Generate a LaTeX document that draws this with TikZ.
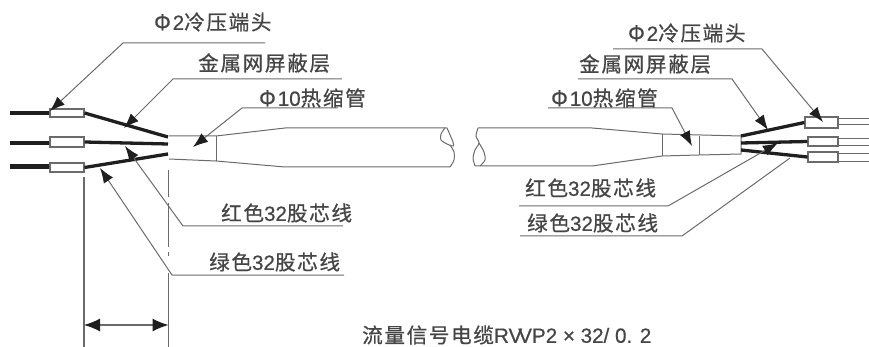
\documentclass[tikz,border=0pt]{standalone}
\usepackage{fontspec}
\usetikzlibrary{arrows.meta}
\setmainfont[FakeBold=0.5]{Liberation Sans}
\newfontfamily\cjk[LetterSpace=8,FakeBold=0.7]{Noto Sans CJK SC}
\newcommand{\zh}[1]{{\cjk #1}}
\newcommand{\phis}{{\cjk Φ}\kern2pt}
\definecolor{ink}{gray}{0.12}
\definecolor{leadc}{gray}{0.42}
\definecolor{txt}{gray}{0.27}
\tikzset{
 x=1pt,y=-1pt,
 lab/.style={inner sep=0pt,text=txt,font=\fontsize{20.6}{21}\selectfont,anchor=west},
 term/.style={draw=leadc,line width=1.1pt,fill=white,inner sep=0pt},
 wire/.style={draw=ink,line width=3.3pt},
 tail/.style={draw=leadc,line width=0.9pt},
 lead/.style={draw=leadc,line width=1pt},
 leadarrow/.style={lead,-{Latex[length=15pt,width=11pt,color=ink]}},
 sheath/.style={draw=leadc,line width=1pt},
 dim/.style={draw=leadc,line width=1.2pt},
 dimarrow/.style={draw=leadc,line width=1.2pt,{Latex[length=16pt,width=13pt,color=ink]}-{Latex[length=16pt,width=13pt,color=ink]}},
}
\begin{document}
\begin{tikzpicture}
\useasboundingbox (0,0) rectangle (869,347);
% free-end coordinates
\foreach \n/\x/\y in {
 wa/10/113,wb/10/143,wc/10/167,
 sla/168/137,slb/168/144,slc/168/154,
 sra/741/136,srb/741/143,src/741/150,
 la1/265/43,la2/123/43,la3/50/111,
 lb1/342/79,lb2/173/79,lb3/124/128,
 lc1/338/108,lc2/242/108,lc3/193/147,
 ld1/343/226,ld2/183/226,ld3/125/146,
 le1/344/275,le2/172/275,le3/100/168,
 ra1/613/49,ra2/762/49,ra3/823/122,
 rb1/578/79,rb2/732/79,rb3/768/130,
 rc1/548/108,rc2/672/108,rc3/692/146,
 rd1/519/206,rd2/668/206,rd3/778/143,
 re1/520/236,re2/682/236,re3/790/158,
 dl1/84/177,dl2/84/347,dr1/168.5/170,dr2/168.5/273,dr3/168.5/347,
 da/84/325,db/168.5/325,
 ta1/869/118,ta2/869/124,tb1/869/138,tb2/869/145,tc1/869/153,tc2/869/161}
 {\coordinate (\n) at (\x,\y);}
% sheath
\draw[sheath] (169,136) -- (216,136) -- (285,128) -- (447,128);
\draw[sheath] (169,159) -- (216,161) -- (285,167) -- (450,167);
\draw[sheath] (216,136) -- (216,161);
\draw[sheath] (478,128) -- (592,128) -- (662,134) -- (741,136) -- (741,154) -- (699,155) -- (662,156) -- (592,166) -- (475,166);
\draw[sheath] (662,134) -- (662,156);
\draw[sheath] (699,136) -- (699,155);
% cut ends
\draw[sheath] plot[smooth] coordinates {(445,128) (441,134) (441,140) (447,144) (453,146) (453,142) (447,128)};
\draw[sheath] plot[smooth] coordinates {(450,145) (454,152) (454,160) (450,167)};
\draw[sheath] plot[smooth] coordinates {(478,128) (476,136) (479,143) (475,150) (473,158) (475,166)};
\draw[sheath] plot[smooth] coordinates {(479,143) (484,152) (485,160) (480,166)};
% terminals
\node[term,minimum width=34pt,minimum height=8pt] (tl1) at (67,113) {};
\node[term,minimum width=34pt,minimum height=10pt] (tl2) at (67,142) {};
\node[term,minimum width=34pt,minimum height=9pt] (tl3) at (67,167.5) {};
\node[term,minimum width=33pt,minimum height=11pt] (tr1) at (821.5,122.5) {};
\node[term,minimum width=30pt,minimum height=9pt] (tr2) at (823,141.5) {};
\node[term,minimum width=30pt,minimum height=10pt] (tr3) at (823,157) {};
% wires
\draw[wire,line width=3.6pt] (wa) -- (wa-|tl1.west);
\draw[wire,line width=3.6pt] (wb) -- (wb-|tl2.west);
\draw[wire,line width=5pt] (wc) -- (wc-|tl3.west);
\draw[wire] (tl1.east) -- (sla);
\draw[wire] (tl2.east) -- (slb);
\draw[wire] (tl3.east) -- (slc);
\draw[wire] (sra) -- (tr1.west);
\draw[wire] (srb) -- (tr2.west);
\draw[wire] (src) -- (tr3.west);
\draw[tail] (tr1.east|-ta1) -- (ta1);
\draw[tail] (tr1.east|-ta2) -- (ta2);
\draw[tail] (tr2.east|-tb1) -- (tb1);
\draw[tail] (tr2.east|-tb2) -- (tb2);
\draw[tail] (tr3.east|-tc1) -- (tc1);
\draw[tail] (tr3.east|-tc2) -- (tc2);
% leaders
\draw[leadarrow] (la1) -- (la2) -- (la3);
\draw[leadarrow] (lb1) -- (lb2) -- (lb3);
\draw[leadarrow] (lc1) -- (lc2) -- (lc3);
\draw[leadarrow] (ld1) -- (ld2) -- (ld3);
\draw[leadarrow] (le1) -- (le2) -- (le3);
\draw[leadarrow] (ra1) -- (ra2) -- (ra3);
\draw[leadarrow] (rb1) -- (rb2) -- (rb3);
\draw[leadarrow] (rc1) -- (rc2) -- (rc3);
\draw[leadarrow] (rd1) -- (rd2) -- (rd3);
\draw[lead] (re1) -- (re2) -- (re3);
% dimension
\draw[dim] (dl1) -- (dl2);
\draw[dim,dash pattern=on 27pt off 6pt on 44pt off 5pt on 4pt off 18pt] (dr1) -- (dr2);
\draw[dim] (dr2) -- (dr3);
\draw[dimarrow] (da) -- (db);
% labels
\node[lab] (t1) at (154,22) {\phis 2\zh{冷压端头}};
\node[lab] (t2) at (198,63) {\zh{金属网屏蔽层}};
\node[lab] (t3) at (259,98) {\phis 10\zh{热缩管}};
\node[lab] (t4) at (221,213) {\zh{红色}32\zh{股芯线}};
\node[lab] (t5) at (209,262) {\zh{绿色}32\zh{股芯线}};
\node[lab] (t6) at (628,33) {\phis 2\zh{冷压端头}};
\node[lab] (t7) at (579,64) {\zh{金属网屏蔽层}};
\node[lab] (t8) at (551,98) {\phis 10\zh{热缩管}};
\node[lab] (t9) at (525,188) {\zh{红色}32\zh{股芯线}};
\node[lab] (t10) at (527,223) {\zh{绿色}32\zh{股芯线}};
\node[lab] (t11) at (362,335) {\zh{流量信号电缆}RV\kern-4pt VP2 × 32/ 0. 2};
\end{tikzpicture}
\end{document}
